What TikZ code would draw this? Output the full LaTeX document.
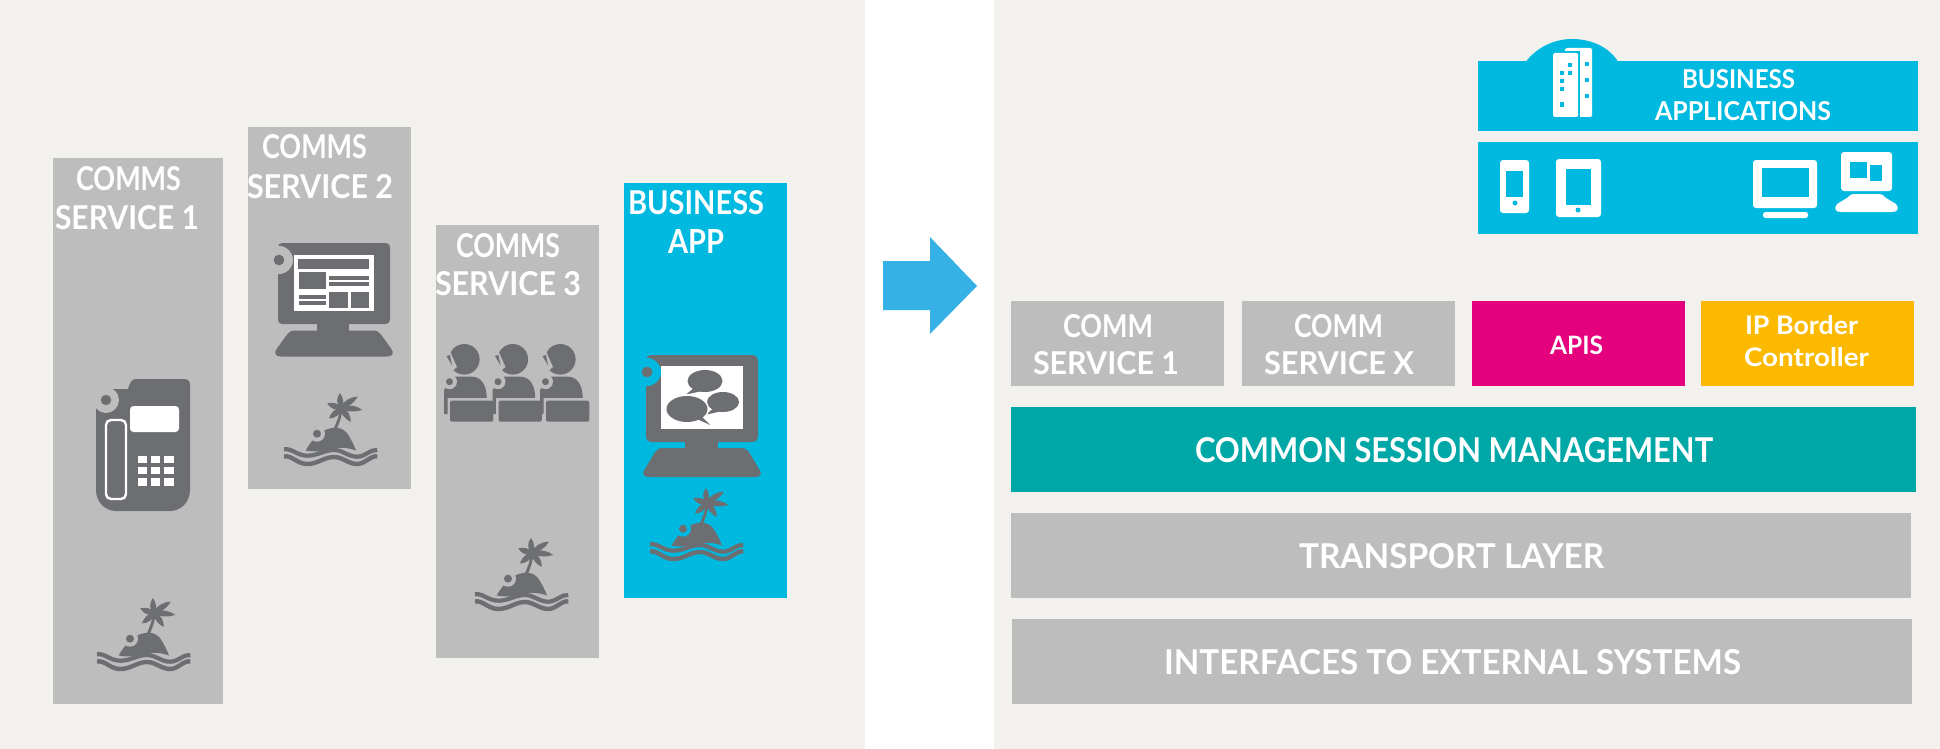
\documentclass[tikz,border=0pt]{standalone}
\usepackage{graphicx}
\usepackage{fontspec}
\setmainfont{Lato}
\definecolor{panelbg}{HTML}{F2F1ED}
\definecolor{boxgray}{HTML}{BDBDBD}
\definecolor{icondark}{HTML}{6D6E71}
\definecolor{appcyan}{HTML}{00B9E0}
\definecolor{apimag}{HTML}{E5007D}
\definecolor{ipgold}{HTML}{FBB900}
\definecolor{sessteal}{HTML}{00A7A7}
\definecolor{arrowblue}{HTML}{35B1E6}
\tikzset{
  block/.style={inner sep=0,outer sep=0,draw=none,rectangle},
  lab/.style={inner sep=0,outer sep=0,anchor=base west,text=white},
  wht/.style={fill=white,draw=none}
}
% name, x1, y1, x2, y2, colour
\newcommand\blk[6]{\node[block,fill=#6,minimum width=#4pt-#2pt,minimum height=#5pt-#3pt] (#1) at ({(#2+#4)/2},{(#3+#5)/2}) {};}
% name, x, baseline, width, height, text
\newcommand\lbl[6]{\node[lab] (#1) at (#2,#3) {\resizebox{#4pt}{#5pt}{\bfseries #6}};}
% rounded trapezoid base: colour, xl, xr, ytop, ybottom
\newcommand\kbd[5]{\fill[#1] ({#2+20},#4) -- ({#3-20},#4) .. controls ({#3-16},#4) and ({#3-14},{#4+1.5}) .. ({#3-12},{#4+4})
  -- ({#3-2},{#5-8}) .. controls ({#3+2},{#5-3}) and ({#3-1},#5) .. ({#3-6},#5)
  -- ({#2+6},#5) .. controls ({#2+1},#5) and ({#2-2},{#5-3}) .. ({#2+2},{#5-8})
  -- ({#2+12},{#4+4}) .. controls ({#2+14},{#4+1.5}) and ({#2+16},#4) .. ({#2+20},#4) -- cycle;}
% island: x, y, background colour
\newcommand\island[3]{%
\begin{scope}[shift={(#1,#2)}]
  \foreach \ang/\len in {94/15,34/20.5,-5/21.5,-55/17,-139/16,161/14.5}{
    \begin{scope}[shift={(58,15)},rotate=\ang]
      \fill[icondark] (0,-1) .. controls ({\len*.3},-4.5) and ({\len*.7},-4) .. (\len,0) .. controls ({\len*.7},3) and ({\len*.3},3.5) .. (0,1) -- cycle;
    \end{scope}}
  \fill[icondark] (57,15) .. controls (56,24) and (53,31) .. (49.5,38) -- (53,38) .. controls (56,31) and (59,24) .. (59.5,15) -- cycle;
  % mound
  \fill[icondark] (22.7,57.5) .. controls (25,53) and (27,51) .. (29,48) -- (42,37) .. controls (46,35.5) and (50,34.5) .. (54,34.7)
     .. controls (60,35.5) and (62,38) .. (64,40) .. controls (68,46) and (71,52) .. (73,57.5)
     .. controls (64,54.5) and (58,54) .. (50,56) .. controls (40,59) and (30,59) .. (22.7,57.5) -- cycle;
  \fill[#3] (34,40.7) circle[radius=8];
  \fill[icondark] (34,40.7) circle[radius=4];
  % waves
  \draw[icondark,line width=4.2pt] (1,56.3) .. controls (9,55) and (14,62.7) .. (24.3,62.7) .. controls (35,62.7) and (41,57) .. (51,57)
     .. controls (60,57) and (65,63.7) .. (74.3,63.7) .. controls (82,63.7) and (88,56) .. (94.3,57);
  \draw[icondark,line width=4.4pt] (1,63.5) .. controls (9,62) and (14,71) .. (24.3,71) .. controls (35,71) and (41,64) .. (51,64)
     .. controls (60,64) and (65,71) .. (74.3,71) .. controls (82,71) and (88,62) .. (94.3,63.5);
\end{scope}}
% notch: x, y, radius, colour
\newcommand\notch[4]{\fill[#4] (#1,#2) circle[radius=#3]; \fill[icondark] (#1,#2) circle[radius={#3*0.38}];}
% agent: x offset
\newcommand\agent[1]{%
\begin{scope}[shift={(#1,0)}]
  \fill[icondark] (464.3,359.3) circle[radius=15.3];
  \fill[boxgray] (449,349) -- (445,354) -- (451,372) -- (457,367) -- cycle;
  \fill[icondark] (446.5,356) -- (450,355) -- (452,365.5) -- cycle;
  \fill[icondark] (444,414) -- (444,390) -- (455,376.7) -- (472,376.7) .. controls (481,376.7) and (486.7,385) .. (486.7,398) -- (450,400) -- (447.5,414) -- cycle;
  \fill[boxgray] (447.5,414.5) -- (447.5,398) -- (494,398) -- (494,401) -- (450,401) -- (450,414.5) -- cycle;
  \fill[boxgray] (449.5,381.7) circle[radius=7.5];
  \fill[icondark] (449.5,381.7) circle[radius=3.5];
  \fill[icondark,rounded corners=2pt] (450,400.7) rectangle (493.3,421.7);
\end{scope}}
\begin{document}
\begin{tikzpicture}[x=1pt,y=-1pt]
\useasboundingbox (0,0) rectangle (1940,749);
\fill[white] (0,0) rectangle (1940,749);
\blk{leftpanel}{0}{0}{865}{749}{panelbg}
\blk{rightpanel}{993.5}{0}{1940}{749}{panelbg}

% left columns
\blk{cs1}{53}{158}{223}{704}{boxgray}
\blk{cs2}{248}{127}{411}{488.5}{boxgray}
\blk{cs3}{436}{225}{599}{658}{boxgray}
\blk{ba}{624}{183}{787}{598}{appcyan}

\lbl{t1a}{76}{190}{105}{24}{COMMS}
\lbl{t1b}{55}{229}{144}{24}{SERVICE 1}
\lbl{t2a}{262}{158}{105}{24}{COMMS}
\lbl{t2b}{247}{198}{146}{24}{SERVICE 2}
\lbl{t3a}{456}{257}{104}{24}{COMMS}
\lbl{t3b}{435}{295}{146}{24}{SERVICE 3}
\lbl{t4a}{628}{214}{136}{24}{BUSINESS}
\lbl{t4b}{668}{253}{56}{24}{APP}

% desk phone
\fill[icondark] (136,379) -- (184,379) .. controls (188,379) and (190,381) .. (190,385) -- (190,490)
  .. controls (190,503) and (180,511) .. (170,511) -- (116,511) .. controls (106,511) and (96,503) .. (96,490)
  -- (96,400) -- (110,389) -- (128,389) .. controls (130,382) and (132,379) .. (136,379) -- cycle;
\fill[boxgray] (106,400) circle[radius=13];
\fill[icondark] (106,400) circle[radius=5.2];
\draw[white,line width=2.4pt,rounded corners=5pt] (106,420) rectangle (126,499);
\fill[wht,rounded corners=3.5pt] (130,406) rectangle (179,432);
\foreach \px/\qx in {138/147,151/160,164/174}
  \foreach \py/\qy in {456/463,467/474,478/486}
    \fill[white] (\px,\py) rectangle (\qx,\qy);

% desktop, service 2
\fill[icondark,rounded corners=4pt] (278,243) rectangle (390,324);
\fill[icondark] (317,322) rectangle (349,332);
\kbd{icondark}{275}{393}{330.5}{356.5}
\notch{279}{260}{14}{boxgray}
\fill[white] (294,255) rectangle (374,311);
\fill[icondark] (298,259) rectangle (369,268.5);
\fill[icondark] (299,272) rectangle (326,289);
\fill[icondark] (329,276) rectangle (369,280);
\fill[icondark] (329,282) rectangle (369,286);
\fill[icondark] (299,295) rectangle (326,299);
\fill[icondark] (299,301) rectangle (326,304.5);
\fill[icondark] (329,291.5) rectangle (348,308);
\fill[icondark] (351,291.5) rectangle (369,308);

% agents
\agent{0}
\agent{48.5}
\agent{96}

% desktop, business app
\fill[icondark,rounded corners=5pt] (646,355) rectangle (758,442);
\fill[icondark] (685,440) rectangle (718,450);
\kbd{icondark}{643}{761}{448}{477}
\notch{647}{372}{14}{appcyan}
\fill[white] (661,366) rectangle (743,429);
\fill[icondark] (705,381) ellipse[x radius=17.5,y radius=11];
\fill[icondark] (694,388) -- (686,394.5) -- (702,391) -- cycle;
\fill[white] (706,405) ellipse[x radius=19,y radius=12.5];
\fill[white] (687,409) ellipse[x radius=22,y radius=14.5];
\fill[icondark] (723,402) ellipse[x radius=16,y radius=10];
\fill[icondark] (714,408) -- (705,415) -- (722,411) -- cycle;
\fill[white] (687,409) ellipse[x radius=22,y radius=14.5];
\fill[icondark] (687,409) ellipse[x radius=20.5,y radius=13];
\fill[icondark] (695,418) -- (710,425) -- (701,416) -- cycle;

% islands
\island{96}{598}{boxgray}
\island{283}{393}{boxgray}
\island{474}{538}{boxgray}
\island{649}{488}{appcyan}

% arrow
\fill[arrowblue] (883,261) -- (930,261) -- (930,237) -- (977,286) -- (930,334) -- (930,310) -- (883,310) -- cycle;

% business applications
\blk{baptop}{1478}{61}{1918}{131}{appcyan}
\blk{bapbot}{1478}{142}{1918}{234}{appcyan}
\fill[appcyan] (1526,61.5) .. controls (1538,46) and (1556,39) .. (1572,39) .. controls (1590,39) and (1608,46) .. (1618,61.5) -- cycle;
\fill[white,rounded corners=1.5pt] (1565,48) rectangle (1592,117);
\fill[appcyan] (1551,51) rectangle (1580,119);
\fill[white,rounded corners=1.5pt] (1553,53) rectangle (1578,117);
\foreach \wx/\wy in {1568/62.7,1568/70.7,1560/70.7,1560/78.7,1560/86.7,1560/102.5,1584.7/62,1584.7/78.3,1584.7/94}
  \fill[appcyan] (\wx,\wy) rectangle +(4,4.2);
\lbl{t5a}{1682}{89}{113}{19}{BUSINESS}
\lbl{t5b}{1655}{121}{176}{19}{APPLICATIONS}

% devices
\fill[white,rounded corners=3pt] (1500,160) rectangle (1529,213);
\fill[appcyan] (1506,171) rectangle (1523,197);
\fill[appcyan] (1515,203) circle[radius=2.5];
\fill[white,rounded corners=3pt] (1556,159) rectangle (1601,217);
\fill[appcyan] (1566,169) rectangle (1591,205);
\fill[appcyan] (1578,210) circle[radius=2.5];
\fill[white,rounded corners=3pt] (1753,160) rectangle (1817,208);
\fill[appcyan] (1762,168) rectangle (1809,197);
\fill[white,rounded corners=2.5pt] (1763,212) rectangle (1808,218);
\fill[white,rounded corners=3pt] (1841,152) rectangle (1892,191);
\fill[appcyan] (1850,162) rectangle (1867,178);
\fill[appcyan] (1870,165) rectangle (1882,181);
\kbd{white}{1835}{1898}{194}{212}

% right stack
\blk{svc1}{1011}{301}{1224}{386}{boxgray}
\blk{svcx}{1242}{301}{1455}{386}{boxgray}
\blk{apis}{1472}{301}{1685}{386}{apimag}
\blk{ipbc}{1701}{301}{1914}{386}{ipgold}
\blk{csm}{1011}{407}{1916}{492}{sessteal}
\blk{trans}{1011}{513}{1911}{598}{boxgray}
\blk{iface}{1012}{619}{1912}{704}{boxgray}

\lbl{t6a}{1063}{337}{90}{23}{COMM}
\lbl{t6b}{1033}{374.5}{146}{23}{SERVICE 1}
\lbl{t7a}{1294}{337}{89}{23}{COMM}
\lbl{t7b}{1264}{374.5}{150}{23}{SERVICE X}
\lbl{t8}{1550}{354}{53}{18.5}{APIS}
\lbl{t9a}{1745}{334}{113}{19}{IP Border}
\lbl{t9b}{1744}{366}{125}{19}{Controller}
\lbl{t10}{1195}{462}{518}{25}{COMMON SESSION MANAGEMENT}
\lbl{t11}{1299}{568}{305}{25}{TRANSPORT LAYER}
\lbl{t12}{1164}{674}{577}{25}{INTERFACES TO EXTERNAL SYSTEMS}
\end{tikzpicture}
\end{document}
